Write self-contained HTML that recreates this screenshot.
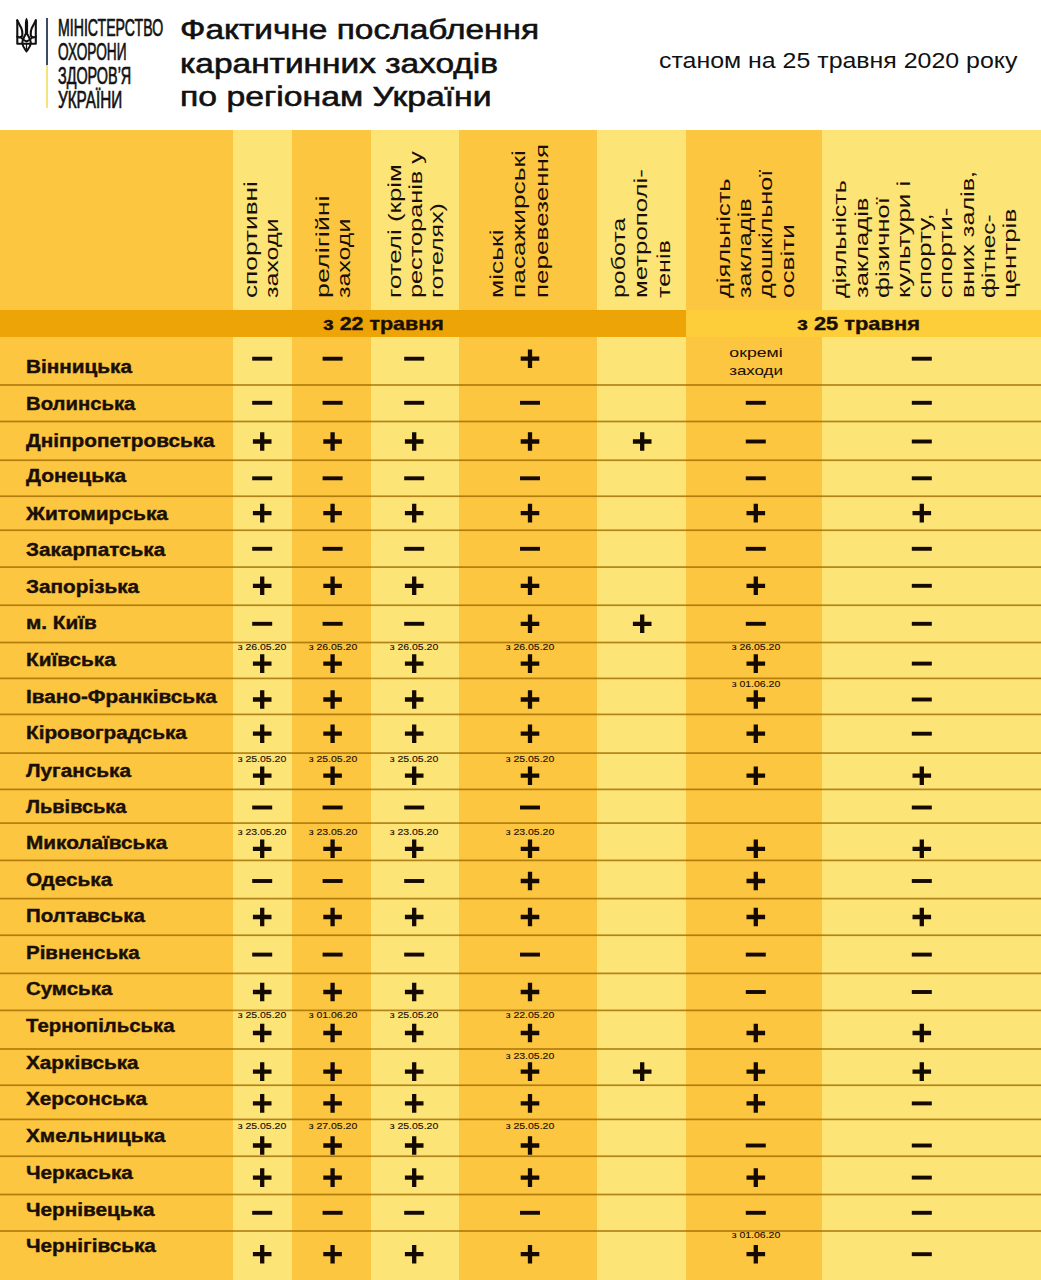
<!DOCTYPE html>
<html><head><meta charset="utf-8"><title>Фактичне послаблення карантинних заходів</title>
<style>
*{margin:0;padding:0;box-sizing:border-box}
html,body{width:1041px;height:1280px;overflow:hidden;background:#fff}
body{position:relative;font-family:"Liberation Sans",sans-serif;color:#1a0f06}
.a{position:absolute;white-space:nowrap}
.bg{position:absolute;top:130px;height:1150px}
.ln{position:absolute;left:0;width:1041px;height:2px;background:rgba(168,112,6,.62)}
.nm{position:absolute;left:26px;font-weight:700;font-size:17.5px;line-height:20px;white-space:nowrap;transform-origin:0 0;transform:scaleX(1.185);-webkit-text-stroke:.4px #1a0f06}
.mi{position:absolute;width:20px;height:4px;background:#150a02}
.pl{position:absolute;width:18.6px;height:18.6px}
.pl:before{content:"";position:absolute;left:0;top:7.1px;width:18.6px;height:4.4px;background:#150a02}
.pl:after{content:"";position:absolute;left:7.1px;top:0;width:4.4px;height:18.6px;background:#150a02}
.dt{position:absolute;font-size:9.6px;line-height:10px;white-space:nowrap;transform-origin:50% 0;transform:scaleX(1.095);text-align:center;width:60px;-webkit-text-stroke:.12px #1a0f06}
.hd{position:absolute;font-size:18.2px;line-height:21px;white-space:nowrap;transform-origin:0 0}
</style></head><body>
<div class="bg" style="left:0px;width:233px;background:#FDC640"></div>
<div class="bg" style="left:233px;width:59px;background:#FDE477"></div>
<div class="bg" style="left:292px;width:79px;background:#FDC640"></div>
<div class="bg" style="left:371px;width:88px;background:#FDE477"></div>
<div class="bg" style="left:459px;width:138px;background:#FDC640"></div>
<div class="bg" style="left:597px;width:89px;background:#FDE477"></div>
<div class="bg" style="left:686px;width:136px;background:#FDC640"></div>
<div class="bg" style="left:822px;width:219px;background:#FDE477"></div>
<div class="a" style="left:0;top:310px;width:686px;height:27px;background:#EDA406"></div>
<div class="a" style="left:686px;top:310px;width:355px;height:27px;background:#FDCE3A"></div>
<div class="a" style="left:323px;top:312.5px;font-weight:700;font-size:19px;line-height:22px;transform-origin:0 0;transform:scaleX(1.13);-webkit-text-stroke:.4px #1a0f06">з 22 травня</div>
<div class="a" style="left:797px;top:312.5px;font-weight:700;font-size:19px;line-height:22px;transform-origin:0 0;transform:scaleX(1.15);-webkit-text-stroke:.4px #1a0f06">з 25 травня</div>
<svg class="a" style="left:0;top:0" width="1041" height="1280" viewBox="0 0 1041 1280"><g fill="rgb(158,104,0)" fill-opacity=".78"><rect x="0" y="384.15" width="1041" height="1.7"/><rect x="0" y="420.65" width="1041" height="1.7"/><rect x="0" y="459.4" width="1041" height="1.7"/><rect x="0" y="495.4" width="1041" height="1.7"/><rect x="0" y="529.4" width="1041" height="1.7"/><rect x="0" y="566.25" width="1041" height="1.7"/><rect x="0" y="604.4" width="1041" height="1.7"/><rect x="0" y="641.65" width="1041" height="1.7"/><rect x="0" y="677.55" width="1041" height="1.7"/><rect x="0" y="713.55" width="1041" height="1.7"/><rect x="0" y="752.25" width="1041" height="1.7"/><rect x="0" y="788.55" width="1041" height="1.7"/><rect x="0" y="822.25" width="1041" height="1.7"/><rect x="0" y="859.55" width="1041" height="1.7"/><rect x="0" y="897.75" width="1041" height="1.7"/><rect x="0" y="934.4" width="1041" height="1.7"/><rect x="0" y="972.55" width="1041" height="1.7"/><rect x="0" y="1009.55" width="1041" height="1.7"/><rect x="0" y="1048.15" width="1041" height="1.7"/><rect x="0" y="1084.4" width="1041" height="1.7"/><rect x="0" y="1118.55" width="1041" height="1.7"/><rect x="0" y="1155.4" width="1041" height="1.7"/><rect x="0" y="1193.65" width="1041" height="1.7"/><rect x="0" y="1230.15" width="1041" height="1.7"/></g><g fill="#150a02"><rect x="252.2" y="356.75" width="20" height="3.9"/><rect x="322.6" y="356.75" width="20" height="3.9"/><rect x="404.2" y="356.75" width="20" height="3.9"/><path d="M520.7 356.55h18.6v4.3h-18.6z M527.85 349.4h4.3v18.6h-4.3z"/><rect x="911.8" y="356.75" width="20" height="3.9"/><rect x="252.2" y="400.85" width="20" height="3.9"/><rect x="322.6" y="400.85" width="20" height="3.9"/><rect x="404.2" y="400.85" width="20" height="3.9"/><rect x="520" y="400.85" width="20" height="3.9"/><rect x="745.8" y="400.85" width="20" height="3.9"/><rect x="911.8" y="400.85" width="20" height="3.9"/><path d="M252.9 439.35h18.6v4.3h-18.6z M260.05 432.2h4.3v18.6h-4.3z"/><path d="M323.3 439.35h18.6v4.3h-18.6z M330.45 432.2h4.3v18.6h-4.3z"/><path d="M404.9 439.35h18.6v4.3h-18.6z M412.05 432.2h4.3v18.6h-4.3z"/><path d="M520.7 439.35h18.6v4.3h-18.6z M527.85 432.2h4.3v18.6h-4.3z"/><path d="M632.9 439.35h18.6v4.3h-18.6z M640.05 432.2h4.3v18.6h-4.3z"/><rect x="745.8" y="439.55" width="20" height="3.9"/><rect x="911.8" y="439.55" width="20" height="3.9"/><rect x="252.2" y="476.35" width="20" height="3.9"/><rect x="322.6" y="476.35" width="20" height="3.9"/><rect x="404.2" y="476.35" width="20" height="3.9"/><rect x="520" y="476.35" width="20" height="3.9"/><rect x="745.8" y="476.35" width="20" height="3.9"/><rect x="911.8" y="476.35" width="20" height="3.9"/><path d="M252.9 510.95h18.6v4.3h-18.6z M260.05 503.8h4.3v18.6h-4.3z"/><path d="M323.3 510.95h18.6v4.3h-18.6z M330.45 503.8h4.3v18.6h-4.3z"/><path d="M404.9 510.95h18.6v4.3h-18.6z M412.05 503.8h4.3v18.6h-4.3z"/><path d="M520.7 510.95h18.6v4.3h-18.6z M527.85 503.8h4.3v18.6h-4.3z"/><path d="M746.5 510.95h18.6v4.3h-18.6z M753.65 503.8h4.3v18.6h-4.3z"/><path d="M912.5 510.95h18.6v4.3h-18.6z M919.65 503.8h4.3v18.6h-4.3z"/><rect x="252.2" y="546.85" width="20" height="3.9"/><rect x="322.6" y="546.85" width="20" height="3.9"/><rect x="404.2" y="546.85" width="20" height="3.9"/><rect x="520" y="546.85" width="20" height="3.9"/><rect x="745.8" y="546.85" width="20" height="3.9"/><rect x="911.8" y="546.85" width="20" height="3.9"/><path d="M252.9 583.65h18.6v4.3h-18.6z M260.05 576.5h4.3v18.6h-4.3z"/><path d="M323.3 583.65h18.6v4.3h-18.6z M330.45 576.5h4.3v18.6h-4.3z"/><path d="M404.9 583.65h18.6v4.3h-18.6z M412.05 576.5h4.3v18.6h-4.3z"/><path d="M520.7 583.65h18.6v4.3h-18.6z M527.85 576.5h4.3v18.6h-4.3z"/><path d="M746.5 583.65h18.6v4.3h-18.6z M753.65 576.5h4.3v18.6h-4.3z"/><rect x="911.8" y="583.85" width="20" height="3.9"/><rect x="252.2" y="621.85" width="20" height="3.9"/><rect x="322.6" y="621.85" width="20" height="3.9"/><rect x="404.2" y="621.85" width="20" height="3.9"/><path d="M520.7 621.65h18.6v4.3h-18.6z M527.85 614.5h4.3v18.6h-4.3z"/><path d="M632.9 621.65h18.6v4.3h-18.6z M640.05 614.5h4.3v18.6h-4.3z"/><rect x="745.8" y="621.85" width="20" height="3.9"/><rect x="911.8" y="621.85" width="20" height="3.9"/><path d="M252.9 661.45h18.6v4.3h-18.6z M260.05 654.3h4.3v18.6h-4.3z"/><path d="M323.3 661.45h18.6v4.3h-18.6z M330.45 654.3h4.3v18.6h-4.3z"/><path d="M404.9 661.45h18.6v4.3h-18.6z M412.05 654.3h4.3v18.6h-4.3z"/><path d="M520.7 661.45h18.6v4.3h-18.6z M527.85 654.3h4.3v18.6h-4.3z"/><path d="M746.5 661.45h18.6v4.3h-18.6z M753.65 654.3h4.3v18.6h-4.3z"/><rect x="911.8" y="661.65" width="20" height="3.9"/><path d="M252.9 697.35h18.6v4.3h-18.6z M260.05 690.2h4.3v18.6h-4.3z"/><path d="M323.3 697.35h18.6v4.3h-18.6z M330.45 690.2h4.3v18.6h-4.3z"/><path d="M404.9 697.35h18.6v4.3h-18.6z M412.05 690.2h4.3v18.6h-4.3z"/><path d="M520.7 697.35h18.6v4.3h-18.6z M527.85 690.2h4.3v18.6h-4.3z"/><path d="M746.5 697.35h18.6v4.3h-18.6z M753.65 690.2h4.3v18.6h-4.3z"/><rect x="911.8" y="697.55" width="20" height="3.9"/><path d="M252.9 731.55h18.6v4.3h-18.6z M260.05 724.4h4.3v18.6h-4.3z"/><path d="M323.3 731.55h18.6v4.3h-18.6z M330.45 724.4h4.3v18.6h-4.3z"/><path d="M404.9 731.55h18.6v4.3h-18.6z M412.05 724.4h4.3v18.6h-4.3z"/><path d="M520.7 731.55h18.6v4.3h-18.6z M527.85 724.4h4.3v18.6h-4.3z"/><path d="M746.5 731.55h18.6v4.3h-18.6z M753.65 724.4h4.3v18.6h-4.3z"/><rect x="911.8" y="731.75" width="20" height="3.9"/><path d="M252.9 773.55h18.6v4.3h-18.6z M260.05 766.4h4.3v18.6h-4.3z"/><path d="M323.3 773.55h18.6v4.3h-18.6z M330.45 766.4h4.3v18.6h-4.3z"/><path d="M404.9 773.55h18.6v4.3h-18.6z M412.05 766.4h4.3v18.6h-4.3z"/><path d="M520.7 773.55h18.6v4.3h-18.6z M527.85 766.4h4.3v18.6h-4.3z"/><path d="M746.5 773.55h18.6v4.3h-18.6z M753.65 766.4h4.3v18.6h-4.3z"/><path d="M912.5 773.55h18.6v4.3h-18.6z M919.65 766.4h4.3v18.6h-4.3z"/><rect x="252.2" y="805.55" width="20" height="3.9"/><rect x="322.6" y="805.55" width="20" height="3.9"/><rect x="404.2" y="805.55" width="20" height="3.9"/><rect x="520" y="805.55" width="20" height="3.9"/><rect x="911.8" y="805.55" width="20" height="3.9"/><path d="M252.9 846.65h18.6v4.3h-18.6z M260.05 839.5h4.3v18.6h-4.3z"/><path d="M323.3 846.65h18.6v4.3h-18.6z M330.45 839.5h4.3v18.6h-4.3z"/><path d="M404.9 846.65h18.6v4.3h-18.6z M412.05 839.5h4.3v18.6h-4.3z"/><path d="M520.7 846.65h18.6v4.3h-18.6z M527.85 839.5h4.3v18.6h-4.3z"/><path d="M746.5 846.65h18.6v4.3h-18.6z M753.65 839.5h4.3v18.6h-4.3z"/><path d="M912.5 846.65h18.6v4.3h-18.6z M919.65 839.5h4.3v18.6h-4.3z"/><rect x="252.2" y="879.05" width="20" height="3.9"/><rect x="322.6" y="879.05" width="20" height="3.9"/><rect x="404.2" y="879.05" width="20" height="3.9"/><path d="M520.7 878.85h18.6v4.3h-18.6z M527.85 871.7h4.3v18.6h-4.3z"/><path d="M746.5 878.85h18.6v4.3h-18.6z M753.65 871.7h4.3v18.6h-4.3z"/><rect x="911.8" y="879.05" width="20" height="3.9"/><path d="M252.9 914.85h18.6v4.3h-18.6z M260.05 907.7h4.3v18.6h-4.3z"/><path d="M323.3 914.85h18.6v4.3h-18.6z M330.45 907.7h4.3v18.6h-4.3z"/><path d="M404.9 914.85h18.6v4.3h-18.6z M412.05 907.7h4.3v18.6h-4.3z"/><path d="M520.7 914.85h18.6v4.3h-18.6z M527.85 907.7h4.3v18.6h-4.3z"/><path d="M746.5 914.85h18.6v4.3h-18.6z M753.65 907.7h4.3v18.6h-4.3z"/><path d="M912.5 914.85h18.6v4.3h-18.6z M919.65 907.7h4.3v18.6h-4.3z"/><rect x="252.2" y="952.65" width="20" height="3.9"/><rect x="322.6" y="952.65" width="20" height="3.9"/><rect x="404.2" y="952.65" width="20" height="3.9"/><rect x="520" y="952.65" width="20" height="3.9"/><rect x="745.8" y="952.65" width="20" height="3.9"/><rect x="911.8" y="952.65" width="20" height="3.9"/><path d="M252.9 989.85h18.6v4.3h-18.6z M260.05 982.7h4.3v18.6h-4.3z"/><path d="M323.3 989.85h18.6v4.3h-18.6z M330.45 982.7h4.3v18.6h-4.3z"/><path d="M404.9 989.85h18.6v4.3h-18.6z M412.05 982.7h4.3v18.6h-4.3z"/><path d="M520.7 989.85h18.6v4.3h-18.6z M527.85 982.7h4.3v18.6h-4.3z"/><rect x="745.8" y="990.05" width="20" height="3.9"/><rect x="911.8" y="990.05" width="20" height="3.9"/><path d="M252.9 1030.85h18.6v4.3h-18.6z M260.05 1023.7h4.3v18.6h-4.3z"/><path d="M323.3 1030.85h18.6v4.3h-18.6z M330.45 1023.7h4.3v18.6h-4.3z"/><path d="M404.9 1030.85h18.6v4.3h-18.6z M412.05 1023.7h4.3v18.6h-4.3z"/><path d="M520.7 1030.85h18.6v4.3h-18.6z M527.85 1023.7h4.3v18.6h-4.3z"/><path d="M746.5 1030.85h18.6v4.3h-18.6z M753.65 1023.7h4.3v18.6h-4.3z"/><path d="M912.5 1030.85h18.6v4.3h-18.6z M919.65 1023.7h4.3v18.6h-4.3z"/><path d="M252.9 1069.45h18.6v4.3h-18.6z M260.05 1062.3h4.3v18.6h-4.3z"/><path d="M323.3 1069.45h18.6v4.3h-18.6z M330.45 1062.3h4.3v18.6h-4.3z"/><path d="M404.9 1069.45h18.6v4.3h-18.6z M412.05 1062.3h4.3v18.6h-4.3z"/><path d="M520.7 1069.45h18.6v4.3h-18.6z M527.85 1062.3h4.3v18.6h-4.3z"/><path d="M632.9 1069.45h18.6v4.3h-18.6z M640.05 1062.3h4.3v18.6h-4.3z"/><path d="M746.5 1069.45h18.6v4.3h-18.6z M753.65 1062.3h4.3v18.6h-4.3z"/><path d="M912.5 1069.45h18.6v4.3h-18.6z M919.65 1062.3h4.3v18.6h-4.3z"/><path d="M252.9 1101.25h18.6v4.3h-18.6z M260.05 1094.1h4.3v18.6h-4.3z"/><path d="M323.3 1101.25h18.6v4.3h-18.6z M330.45 1094.1h4.3v18.6h-4.3z"/><path d="M404.9 1101.25h18.6v4.3h-18.6z M412.05 1094.1h4.3v18.6h-4.3z"/><path d="M520.7 1101.25h18.6v4.3h-18.6z M527.85 1094.1h4.3v18.6h-4.3z"/><path d="M746.5 1101.25h18.6v4.3h-18.6z M753.65 1094.1h4.3v18.6h-4.3z"/><rect x="911.8" y="1101.45" width="20" height="3.9"/><path d="M252.9 1143.35h18.6v4.3h-18.6z M260.05 1136.2h4.3v18.6h-4.3z"/><path d="M323.3 1143.35h18.6v4.3h-18.6z M330.45 1136.2h4.3v18.6h-4.3z"/><path d="M404.9 1143.35h18.6v4.3h-18.6z M412.05 1136.2h4.3v18.6h-4.3z"/><path d="M520.7 1143.35h18.6v4.3h-18.6z M527.85 1136.2h4.3v18.6h-4.3z"/><rect x="745.8" y="1143.55" width="20" height="3.9"/><rect x="911.8" y="1143.55" width="20" height="3.9"/><path d="M252.9 1175.45h18.6v4.3h-18.6z M260.05 1168.3h4.3v18.6h-4.3z"/><path d="M323.3 1175.45h18.6v4.3h-18.6z M330.45 1168.3h4.3v18.6h-4.3z"/><path d="M404.9 1175.45h18.6v4.3h-18.6z M412.05 1168.3h4.3v18.6h-4.3z"/><path d="M520.7 1175.45h18.6v4.3h-18.6z M527.85 1168.3h4.3v18.6h-4.3z"/><path d="M746.5 1175.45h18.6v4.3h-18.6z M753.65 1168.3h4.3v18.6h-4.3z"/><rect x="911.8" y="1175.65" width="20" height="3.9"/><rect x="252.2" y="1210.85" width="20" height="3.9"/><rect x="322.6" y="1210.85" width="20" height="3.9"/><rect x="404.2" y="1210.85" width="20" height="3.9"/><rect x="520" y="1210.85" width="20" height="3.9"/><rect x="745.8" y="1210.85" width="20" height="3.9"/><rect x="911.8" y="1210.85" width="20" height="3.9"/><path d="M252.9 1252.05h18.6v4.3h-18.6z M260.05 1244.9h4.3v18.6h-4.3z"/><path d="M323.3 1252.05h18.6v4.3h-18.6z M330.45 1244.9h4.3v18.6h-4.3z"/><path d="M404.9 1252.05h18.6v4.3h-18.6z M412.05 1244.9h4.3v18.6h-4.3z"/><path d="M520.7 1252.05h18.6v4.3h-18.6z M527.85 1244.9h4.3v18.6h-4.3z"/><path d="M746.5 1252.05h18.6v4.3h-18.6z M753.65 1244.9h4.3v18.6h-4.3z"/><rect x="911.8" y="1252.25" width="20" height="3.9"/></g></svg>
<div class="hd" style="left:241.0033px;top:298.443px;transform:rotate(-90deg) scaleX(1.443)">спортивні</div>
<div class="hd" style="left:262.0033px;top:298.3732px;transform:rotate(-90deg) scaleX(1.3732)">заходи</div>
<div class="hd" style="left:313.1033px;top:298.4821px;transform:rotate(-90deg) scaleX(1.4821)">релігійні</div>
<div class="hd" style="left:334.1033px;top:298.3714px;transform:rotate(-90deg) scaleX(1.3714)">заходи</div>
<div class="hd" style="left:384.8033px;top:298.425px;transform:rotate(-90deg) scaleX(1.425)">готелі (крім</div>
<div class="hd" style="left:405.8033px;top:298.3895px;transform:rotate(-90deg) scaleX(1.3895)">ресторанів у</div>
<div class="hd" style="left:426.8033px;top:298.3716px;transform:rotate(-90deg) scaleX(1.3716)">готелях)</div>
<div class="hd" style="left:487.4033px;top:298.4556px;transform:rotate(-90deg) scaleX(1.4556)">міські</div>
<div class="hd" style="left:509.2033px;top:298.447px;transform:rotate(-90deg) scaleX(1.447)">пасажирські</div>
<div class="hd" style="left:532.0033px;top:298.433px;transform:rotate(-90deg) scaleX(1.433)">перевезення</div>
<div class="hd" style="left:609.1033px;top:298.3672px;transform:rotate(-90deg) scaleX(1.3672)">робота</div>
<div class="hd" style="left:630.7033px;top:298.4191px;transform:rotate(-90deg) scaleX(1.4191)">метрополі-</div>
<div class="hd" style="left:653.6033px;top:298.3756px;transform:rotate(-90deg) scaleX(1.3756)">тенів</div>
<div class="hd" style="left:714.3033px;top:298.3965px;transform:rotate(-90deg) scaleX(1.3965)">діяльність</div>
<div class="hd" style="left:735.1033px;top:298.39px;transform:rotate(-90deg) scaleX(1.39)">закладів</div>
<div class="hd" style="left:756.1033px;top:298.3849px;transform:rotate(-90deg) scaleX(1.3849)">дошкільної</div>
<div class="hd" style="left:778.2033px;top:298.4367px;transform:rotate(-90deg) scaleX(1.4367)">освіти</div>
<div class="hd" style="left:830.3033px;top:298.3776px;transform:rotate(-90deg) scaleX(1.3776)">діяльність</div>
<div class="hd" style="left:851.5033px;top:298.4px;transform:rotate(-90deg) scaleX(1.4)">закладів</div>
<div class="hd" style="left:872.7033px;top:298.3958px;transform:rotate(-90deg) scaleX(1.3958)">фізичної</div>
<div class="hd" style="left:893.9033px;top:298.4237px;transform:rotate(-90deg) scaleX(1.4238)">культури і</div>
<div class="hd" style="left:915.1033px;top:298.4211px;transform:rotate(-90deg) scaleX(1.4211)">спорту,</div>
<div class="hd" style="left:936.3033px;top:298.4274px;transform:rotate(-90deg) scaleX(1.4274)">спорти-</div>
<div class="hd" style="left:957.5033px;top:298.3831px;transform:rotate(-90deg) scaleX(1.3831)">вних залів,</div>
<div class="hd" style="left:978.7033px;top:298.3328px;transform:rotate(-90deg) scaleX(1.3328)">фітнес-</div>
<div class="hd" style="left:999.9033px;top:298.4262px;transform:rotate(-90deg) scaleX(1.4262)">центрів</div>
<div class="nm" style="top:356.6562px">Вінницька</div>
<div class="a" style="left:704px;top:344px;width:104px;text-align:center;font-size:13.5px;line-height:18px;-webkit-text-stroke:.05px #1a0f06"><div style="transform:scaleX(1.31)">окремі</div><div style="transform:scaleX(1.25)">заходи</div></div>
<div class="nm" style="top:394.2062px;transform:scaleX(1.1589)">Волинська</div>
<div class="nm" style="top:431.2062px">Дніпропетровська</div>
<div class="nm" style="top:466.2062px;transform:scaleX(1.1968)">Донецька</div>
<div class="nm" style="top:503.5562px;transform:scaleX(1.1957)">Житомирська</div>
<div class="nm" style="top:539.9562px">Закарпатська</div>
<div class="nm" style="top:576.6562px">Запорізька</div>
<div class="nm" style="top:613.3562px">м. Київ</div>
<div class="nm" style="top:650.2562px">Київська</div>
<div class="dt" style="left:232.2px;top:642.3px">з 26.05.20</div>
<div class="dt" style="left:302.6px;top:642.3px">з 26.05.20</div>
<div class="dt" style="left:384.2px;top:642.3px">з 26.05.20</div>
<div class="dt" style="left:500px;top:642.3px">з 26.05.20</div>
<div class="dt" style="left:725.8px;top:642.3px">з 26.05.20</div>
<div class="nm" style="top:686.5562px">Івано-Франківська</div>
<div class="dt" style="left:725.8px;top:678.9px">з 01.06.20</div>
<div class="nm" style="top:723.3562px">Кіровоградська</div>
<div class="nm" style="top:760.7062px">Луганська</div>
<div class="dt" style="left:232.2px;top:754.1px">з 25.05.20</div>
<div class="dt" style="left:302.6px;top:754.1px">з 25.05.20</div>
<div class="dt" style="left:384.2px;top:754.1px">з 25.05.20</div>
<div class="dt" style="left:500px;top:754.1px">з 25.05.20</div>
<div class="nm" style="top:796.5562px;transform:scaleX(1.1423)">Львівська</div>
<div class="nm" style="top:832.7562px">Миколаївська</div>
<div class="dt" style="left:232.2px;top:826.6px">з 23.05.20</div>
<div class="dt" style="left:302.6px;top:826.6px">з 23.05.20</div>
<div class="dt" style="left:384.2px;top:826.6px">з 23.05.20</div>
<div class="dt" style="left:500px;top:826.6px">з 23.05.20</div>
<div class="nm" style="top:869.6562px">Одеська</div>
<div class="nm" style="top:906.3562px;transform:scaleX(1.1696)">Полтавська</div>
<div class="nm" style="top:943.2062px;transform:scaleX(1.1696)">Рівненська</div>
<div class="nm" style="top:979.3562px;transform:scaleX(1.1684)">Сумська</div>
<div class="nm" style="top:1015.9562px;transform:scaleX(1.1625)">Тернопільська</div>
<div class="dt" style="left:232.2px;top:1010.2px">з 25.05.20</div>
<div class="dt" style="left:302.6px;top:1010.2px">з 01.06.20</div>
<div class="dt" style="left:384.2px;top:1010.2px">з 25.05.20</div>
<div class="dt" style="left:500px;top:1010.2px">з 22.05.20</div>
<div class="nm" style="top:1052.6562px">Харківська</div>
<div class="dt" style="left:500px;top:1051.1px">з 23.05.20</div>
<div class="nm" style="top:1088.9562px">Херсонська</div>
<div class="nm" style="top:1125.8563px">Хмельницька</div>
<div class="dt" style="left:232.2px;top:1120.6px">з 25.05.20</div>
<div class="dt" style="left:302.6px;top:1120.6px">з 27.05.20</div>
<div class="dt" style="left:384.2px;top:1120.6px">з 25.05.20</div>
<div class="dt" style="left:500px;top:1120.6px">з 25.05.20</div>
<div class="nm" style="top:1162.7562px">Черкаська</div>
<div class="nm" style="top:1199.6562px">Чернівецька</div>
<div class="nm" style="top:1235.6562px">Чернігівська</div>
<div class="dt" style="left:725.8px;top:1230.3px">з 01.06.20</div>
<div class="a" style="left:46.3px;top:17.7px;width:2.1px;height:47px;background:#3d4a66"></div>
<div class="a" style="left:46.3px;top:64.7px;width:2.1px;height:43px;background:#f3e37a"></div>
<div class="a" style="left:57.5px;top:15.6px;font-size:23px;line-height:24.1px;-webkit-text-stroke:.7px #111;color:#111"><div style="transform-origin:0 0;transform:scaleX(0.614)">МІНІСТЕРСТВО</div><div style="transform-origin:0 0;transform:scaleX(0.595)">ОХОРОНИ</div><div style="transform-origin:0 0;transform:scaleX(0.625)">ЗДОРОВ’Я</div><div style="transform-origin:0 0;transform:scaleX(0.663)">УКРАЇНИ</div></div>
<div class="a" style="left:179.7px;top:12.8px;font-size:28.5px;line-height:33.7px;-webkit-text-stroke:.6px #111;color:#111"><div style="transform-origin:0 0;transform:scaleX(1.173)">Фактичне послаблення</div><div style="transform-origin:0 0;transform:scaleX(1.173)">карантинних заходів</div><div style="transform-origin:0 0;transform:scaleX(1.184)">по регіонам України</div></div>
<div class="a" style="left:658.6px;top:47.7px;font-size:22.5px;line-height:26px;transform-origin:0 0;transform:scaleX(1.107);color:#111">станом на 25 травня 2020 року</div>
<svg class="a" style="left:12px;top:16px" width="30" height="38" viewBox="0 0 30 38">
<g fill="none" stroke="#111" stroke-width="2.1" stroke-linejoin="round" stroke-linecap="round">
<path d="M5.3 4.3 V27.8 H23.8 V4.3"/>
<path d="M5.3 4.4 L9.5 12.6 C10.2 14.3 10.4 16.3 10.4 18.2 C10.4 19.8 9.6 20.8 8.6 21.2 C7.6 21.6 6.2 21.2 5.3 20.6"/>
<path d="M23.8 4.4 L19.6 12.6 C18.9 14.3 18.7 16.3 18.7 18.2 C18.7 19.8 19.5 20.8 20.5 21.2 C21.5 21.6 22.9 21.2 23.8 20.6"/>
<path d="M8.6 21 C10 23 12 24.5 14.5 25.5 M20.5 21 C19.1 23 17.1 24.5 14.6 25.5"/>
<path d="M14.5 16.5 C13 19.5 10.5 23 10.3 27 C10.5 31 13 33 14.5 35.3 M14.5 16.5 C16 19.5 18.6 23 18.8 27 C18.6 31 16 33 14.5 35.3"/>
<path d="M14.5 27.8 V33" stroke-width="1.2"/>
</g>
<path d="M14.5 1.8 C15.9 3.5 16.1 5.5 16.1 7.5 V17 H12.9 V7.5 C12.9 5.5 13.1 3.5 14.5 1.8 Z" fill="#111"/>
</svg>
</body></html>
